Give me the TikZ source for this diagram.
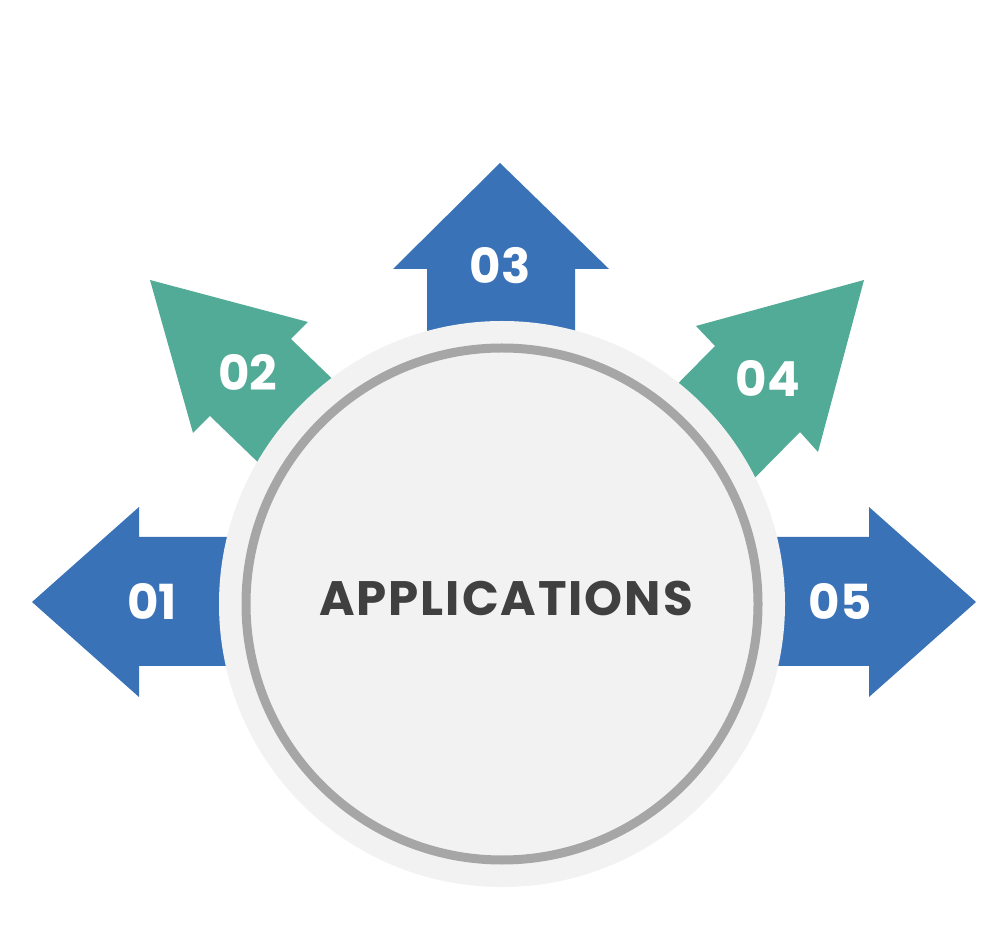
\documentclass[tikz,border=0pt]{standalone}
\usepackage{fontspec}
\setmainfont{Poppins}
\usetikzlibrary{calc}
\definecolor{arrowblue}{HTML}{3A72B8}
\definecolor{arrowgreen}{HTML}{52AB97}
\definecolor{disc}{HTML}{F2F2F2}
\definecolor{ring}{HTML}{A6A6A6}
\definecolor{titlegray}{HTML}{404040}
\tikzset{
  bluearrow/.style={fill=arrowblue},
  greenarrow/.style={fill=arrowgreen},
  num/.style={text=white, font=\bfseries\fontsize{27.5}{30}\selectfont, inner sep=0pt},
  title/.style={text=titlegray, font=\bfseries\fontsize{27.5}{30}\selectfont\addfontfeatures{LetterSpace=4}, inner sep=0pt},
}
\begin{document}
\begin{tikzpicture}[x=0.2mm, y=-0.2mm]
  \useasboundingbox[fill=white] (0,0) rectangle (1000,927);
  \coordinate (C) at (502,604);
  % arrows behind the disc
  \fill[bluearrow] (32,602) -- (139,507) -- (139,537) -- (400,537)
    -- (400,666) -- (139,666) -- (139,697) -- cycle;
  \fill[bluearrow] (976,602) -- (869,507) -- (869,537) -- (600,537)
    -- (600,666) -- (869,666) -- (869,697) -- cycle;
  \fill[bluearrow] (500,163) -- (609,269) -- (575,269) -- (575,450)
    -- (427,450) -- (427,269) -- (393,269) -- cycle;
  \fill[greenarrow] (150,280) -- (308,322) -- (291,339) -- (435,478)
    -- (354,555) -- (210,416) -- (193,433) -- cycle;
  \fill[greenarrow] (864,280) -- (818,452) -- (800,432) -- (660,574)
    -- (575,488) -- (715,346) -- (696,326) -- cycle;
  % disc
  \fill[disc] (C) circle (283);
  \draw[ring, line width=1.8mm] (C) circle (256);
  % labels
  \node[title] (apps) at (506,598) {APPLICATIONS};
  \node[num] (n01) at (152,601) {01};
  \node[num] (n02) at (248,372) {02};
  \node[num] (n03) at (500,266) {03};
  \node[num] (n04) at (768,379) {04};
  \node[num] (n05) at (840,601) {05};
\end{tikzpicture}
\end{document}
